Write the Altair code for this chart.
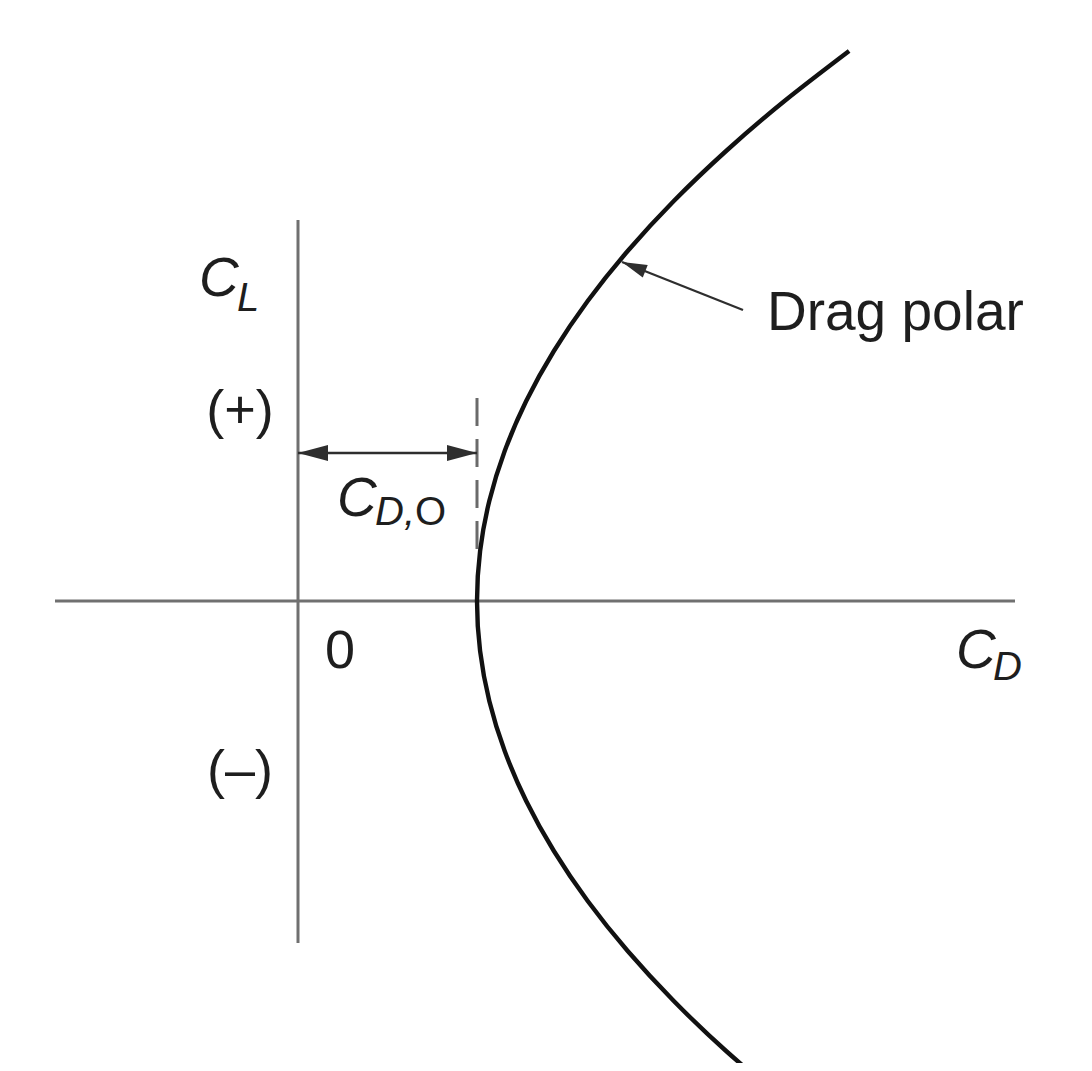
import altair as alt
import pandas as pd

# Drag polar (lift coefficient vs drag coefficient, arbitrary units)
CL = [5.5, 5.0, 4.5, 4.0, 3.5, 3.0, 2.5, 2.0, 1.5, 1.0, 0.5, 0.0,
      -0.5, -1.0, -1.5, -2.0, -2.5, -3.0, -3.5, -4.0, -4.5, -5.0]
CD = [5.511, 4.865, 4.281, 3.758, 3.297, 2.897, 2.559, 2.282, 2.067, 1.913,
      1.821, 1.790, 1.821, 1.913, 2.067, 2.282, 2.559, 2.897, 3.297, 3.758,
      4.281, 4.865]
CD0 = 1.79

# Axis line extents
X_AXIS = [-2.43, 7.17]
Y_AXIS = [-3.42, 3.81]
# CD,0 dimension line height and dashed marker extent
DIM_Y = 1.48
DASH_Y = [0.52, 2.09]
# "Drag polar" pointer: tip on the curve, tail near label
PTR_TIP = [3.24, 3.39]
PTR_TAIL = [4.45, 2.91]

xs = alt.Scale(domain=[-2.90, 7.86], nice=False, zero=False)
ys = alt.Scale(domain=[-4.62, 5.93], nice=False, zero=False)

W, H = 1076, 1055
FONT = "Liberation Sans"
ARROW = "M0,0L-1,-0.27L-1,0.27Z"


def X(f="x"):
    return alt.X(f"{f}:Q", scale=xs, axis=None)


def Y(f="y"):
    return alt.Y(f"{f}:Q", scale=ys, axis=None)


curve_df = pd.DataFrame({"CD": CD, "CL": CL, "i": range(len(CL))})
curve = alt.Chart(curve_df).mark_line(
    color="#111111", strokeWidth=4.4, interpolate="natural", clip=True
).encode(x=X("CD"), y=Y("CL"), order="i:O")

axes_df = pd.DataFrame({
    "x": [X_AXIS[0], 0.0], "x2": [X_AXIS[1], 0.0],
    "y": [0.0, Y_AXIS[0]], "y2": [0.0, Y_AXIS[1]],
})
axes = alt.Chart(axes_df).mark_rule(color="#707070", strokeWidth=3).encode(
    x=X(), x2="x2:Q", y=Y(), y2="y2:Q")

dash_df = pd.DataFrame({"x": [CD0], "y": [DASH_Y[0]], "y2": [DASH_Y[1]]})
dash = alt.Chart(dash_df).mark_rule(
    color="#6a6a6a", strokeWidth=3, strokeDash=[28, 13]
).encode(x=X(), y=Y(), y2="y2:Q")

dim_df = pd.DataFrame({"x": [0.0], "x2": [CD0], "y": [DIM_Y]})
dim = alt.Chart(dim_df).mark_rule(color="#2e2e2e", strokeWidth=2.5).encode(
    x=X(), x2="x2:Q", y=Y())

ptr_df = pd.DataFrame({"x": [PTR_TIP[0]], "x2": [PTR_TAIL[0]],
                       "y": [PTR_TIP[1]], "y2": [PTR_TAIL[1]]})
ptr = alt.Chart(ptr_df).mark_rule(color="#2e2e2e", strokeWidth=2.3).encode(
    x=X(), x2="x2:Q", y=Y(), y2="y2:Q")


def head(x, y, angle, size):
    return alt.Chart(pd.DataFrame({"x": [x], "y": [y]})).mark_point(
        shape=ARROW, filled=True, color="#2e2e2e", opacity=1,
        size=size, angle=angle, strokeWidth=0
    ).encode(x=X(), y=Y())


heads = [
    head(0.0, DIM_Y, 180, 3600),
    head(CD0, DIM_Y, 0, 3600),
    head(PTR_TIP[0], PTR_TIP[1], 201.6, 2500),
]


def label(text, x, y, size, italic=False, align="left", color="#1e1e1e"):
    kw = dict(align=align, baseline="alphabetic", font=FONT, fontSize=size,
              color=color)
    if italic:
        kw["fontStyle"] = "italic"
    return alt.Chart(pd.DataFrame({"x": [x], "y": [y], "t": [text]})).mark_text(
        **kw).encode(x=X(), y=Y(), text="t:N")


labels = [
    label("Drag polar", 4.69, 2.71, 55),
    label("(+)", -0.58, 1.73, 54, align="center"),
    label("(–)", -0.58, -1.87, 54, align="center"),
    label("0", 0.42, -0.67, 54, align="center"),
    label("C", -0.99, 3.05, 55, italic=True),
    label("L", -0.61, 2.90, 40, italic=True),
    label("C", 6.58, -0.67, 55, italic=True),
    label("D", 6.95, -0.79, 40, italic=True),
    label("C", 0.39, 0.85, 55, italic=True),
    label("D,", 0.77, 0.76, 40, italic=True),
    label("O", 1.17, 0.76, 40),
]

chart = alt.layer(axes, dash, dim, ptr, curve, *heads, *labels).properties(
    width=W, height=H, padding=0, autosize=alt.AutoSizeParams(type="none"),
    background="white",
).configure_view(stroke=None)

chart.save("out.html", embed_options={"renderer": "svg", "actions": False})
